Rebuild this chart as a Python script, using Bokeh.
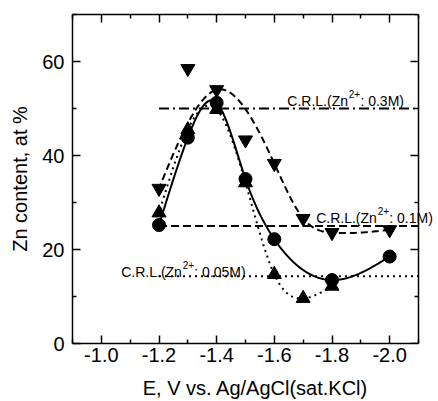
import numpy as np
from bokeh.plotting import figure
from bokeh.models import Range1d, FixedTicker, LinearAxis, Label
from bokeh.embed import file_html
from bokeh.resources import INLINE

# ---- data ----
e_circle = [-1.2, -1.3, -1.4, -1.5, -1.6, -1.8, -2.0]
zn_circle = [25.2, 43.8, 51.2, 35.0, 22.2, 13.5, 18.5]

e_up = [-1.2, -1.3, -1.4, -1.5, -1.6, -1.7, -1.8]
zn_up = [27.8, 45.5, 49.8, 34.2, 14.7, 9.6, 12.2]

e_down = [-1.2, -1.3, -1.4, -1.5, -1.6, -1.7, -1.8, -2.0]
zn_down = [33.0, 58.5, 54.0, 43.3, 38.3, 26.6, 23.6, 24.2]

crl_levels = [50.0, 25.0, 14.3]
crl_conc = ["0.3M", "0.1M", "0.05M"]
crl_start = -1.2

x_lo, x_hi = -0.9, -2.1
y_lo, y_hi = 0, 70
x_ticks = [-1.0, -1.2, -1.4, -1.6, -1.8, -2.0]
x_tick_labels = ["-1.0", "-1.2", "-1.4", "-1.6", "-1.8", "-2.0"]
x_minor = [-0.9, -1.1, -1.3, -1.5, -1.7, -1.9, -2.1]
y_ticks = [0, 20, 40, 60]
y_minor = [10, 30, 50, 70]

FONT = "Liberation Sans"

W, H = 438, 401
BORDER_L, BORDER_R, BORDER_T, BORDER_B = 72, 0, 14, 58
BOX_W = 346  # pixel width of the drawn axes box


def smooth_curve(xs, ys, lam, weights=None, n=240):
    xs = np.asarray(xs, float)
    ys = np.asarray(ys, float)
    w8 = np.ones(len(xs)) if weights is None else np.asarray(weights, float)
    lo, hi = xs.min(), xs.max()
    g = np.linspace(lo, hi, n)
    h = g[1] - g[0]
    A = np.zeros((len(xs), n))
    for i, x in enumerate(xs):
        t = (x - lo) / h
        k = min(int(np.floor(t)), n - 2)
        w = t - k
        A[i, k] += 1 - w
        A[i, k + 1] += w
    D = np.diff(np.eye(n), 2, axis=0) / h ** 2
    Wm = np.diag(w8)
    M = A.T @ Wm @ A + lam * h * (D.T @ D)
    f = np.linalg.solve(M, A.T @ Wm @ ys)
    return g, f


# frame extends to the window's right edge so the labels are not clipped;
# the visible box stops at x_hi
frame_w = W - BORDER_L - BORDER_R
x_end = x_lo + (x_hi - x_lo) * frame_w / BOX_W

p = figure(width=W, height=H, output_backend="svg", toolbar_location=None,
           x_range=Range1d(x_lo, x_end), y_range=Range1d(y_lo, y_hi),
           min_border_left=BORDER_L, min_border_right=BORDER_R,
           min_border_top=BORDER_T, min_border_bottom=BORDER_B)
p.background_fill_color = "white"
p.border_fill_color = "white"
p.outline_line_color = None
p.xgrid.visible = False
p.ygrid.visible = False

xt = FixedTicker(ticks=x_ticks, minor_ticks=x_minor)
yt = FixedTicker(ticks=y_ticks, minor_ticks=y_minor)

bottom = p.below[0]
left = p.left[0]
bottom.ticker = xt
bottom.major_label_overrides = {t: l for t, l in zip(x_ticks, x_tick_labels)}
bottom.axis_label = "E, V vs. Ag/AgCl(sat.KCl)"
left.ticker = yt
left.axis_label = "Zn content, at %"

right = LinearAxis(ticker=yt, major_label_text_alpha=0, major_label_text_font_size="0px",
                   fixed_location=x_hi)
top = LinearAxis(ticker=xt, major_label_text_alpha=0, major_label_text_font_size="1px")
p.add_layout(right, "right")
p.add_layout(top, "above")

bottom.bounds = (x_hi, x_lo)
top.bounds = (x_hi, x_lo)

for ax in [bottom, left, right, top]:
    ax.axis_line_color = "black"
    ax.axis_line_width = 1.5
    ax.major_tick_in = 8
    ax.major_tick_out = 0
    ax.minor_tick_in = 4
    ax.minor_tick_out = 0
    ax.major_tick_line_color = "black"
    ax.minor_tick_line_color = "black"
    ax.major_tick_line_width = 1.5
    ax.minor_tick_line_width = 1.5
    ax.major_label_text_font = FONT
    ax.axis_label_text_font = FONT
    ax.axis_label_text_font_style = "normal"
    ax.axis_label_text_color = "black"
    ax.major_label_text_color = "black"

for ax in [bottom, left]:
    ax.major_label_text_font_size = "20px"
    ax.axis_label_text_font_size = "20px"
bottom.major_label_standoff = 4
bottom.axis_label_standoff = 12
left.major_label_standoff = 8
left.axis_label_standoff = 8
right.major_label_standoff = 0
top.major_label_standoff = 0

# reference lines
dashes = ["10 4 2 4", "8 4", "2 4"]
for lvl, d in zip(crl_levels, dashes):
    p.line([crl_start, x_hi], [lvl, lvl], line_color="black", line_width=2, line_dash=d)

# smooth curves
gx, gy = smooth_curve(e_circle, zn_circle, 1e-9)
p.line(gx, gy, line_color="black", line_width=2)
gx, gy = smooth_curve(e_up, zn_up, 1e-9)
p.line(gx, gy, line_color="black", line_width=2, line_dash="2 4")
gx, gy = smooth_curve(e_down, zn_down, 1e-6, weights=[0.3, 0.0, 1, 0.0, 1, 1, 1, 1])
p.line(gx, gy, line_color="black", line_width=2, line_dash="7 4")

# markers
p.scatter(e_circle, zn_circle, marker="circle", size=13, fill_color="black", line_color="black")
p.scatter(e_up, zn_up, marker="triangle", size=14, fill_color="black", line_color="black")
p.scatter(e_down, zn_down, marker="inverted_triangle", size=14, fill_color="black", line_color="black")

# labels: C.R.L.(Zn2+: c)
label_x = [-1.645, -1.745, -1.069]
label_y = [51.5, 26.6, 15.3]
w_main = 61.5
w_sup = 11.6
for x, y, c in zip(label_x, label_y, crl_conc):
    common = dict(x=x, y=y, x_units="data", y_units="data", text_font=FONT,
                  text_baseline="alphabetic", text_align="left", text_color="black")
    p.add_layout(Label(text="C.R.L.(Zn", text_font_size="14px", **common))
    p.add_layout(Label(text="2+", text_font_size="10px", x_offset=w_main, y_offset=7, **common))
    p.add_layout(Label(text=": " + c + ")", text_font_size="14px", x_offset=w_main + w_sup, **common))

open("out.html", "w").write(file_html(p, INLINE))
